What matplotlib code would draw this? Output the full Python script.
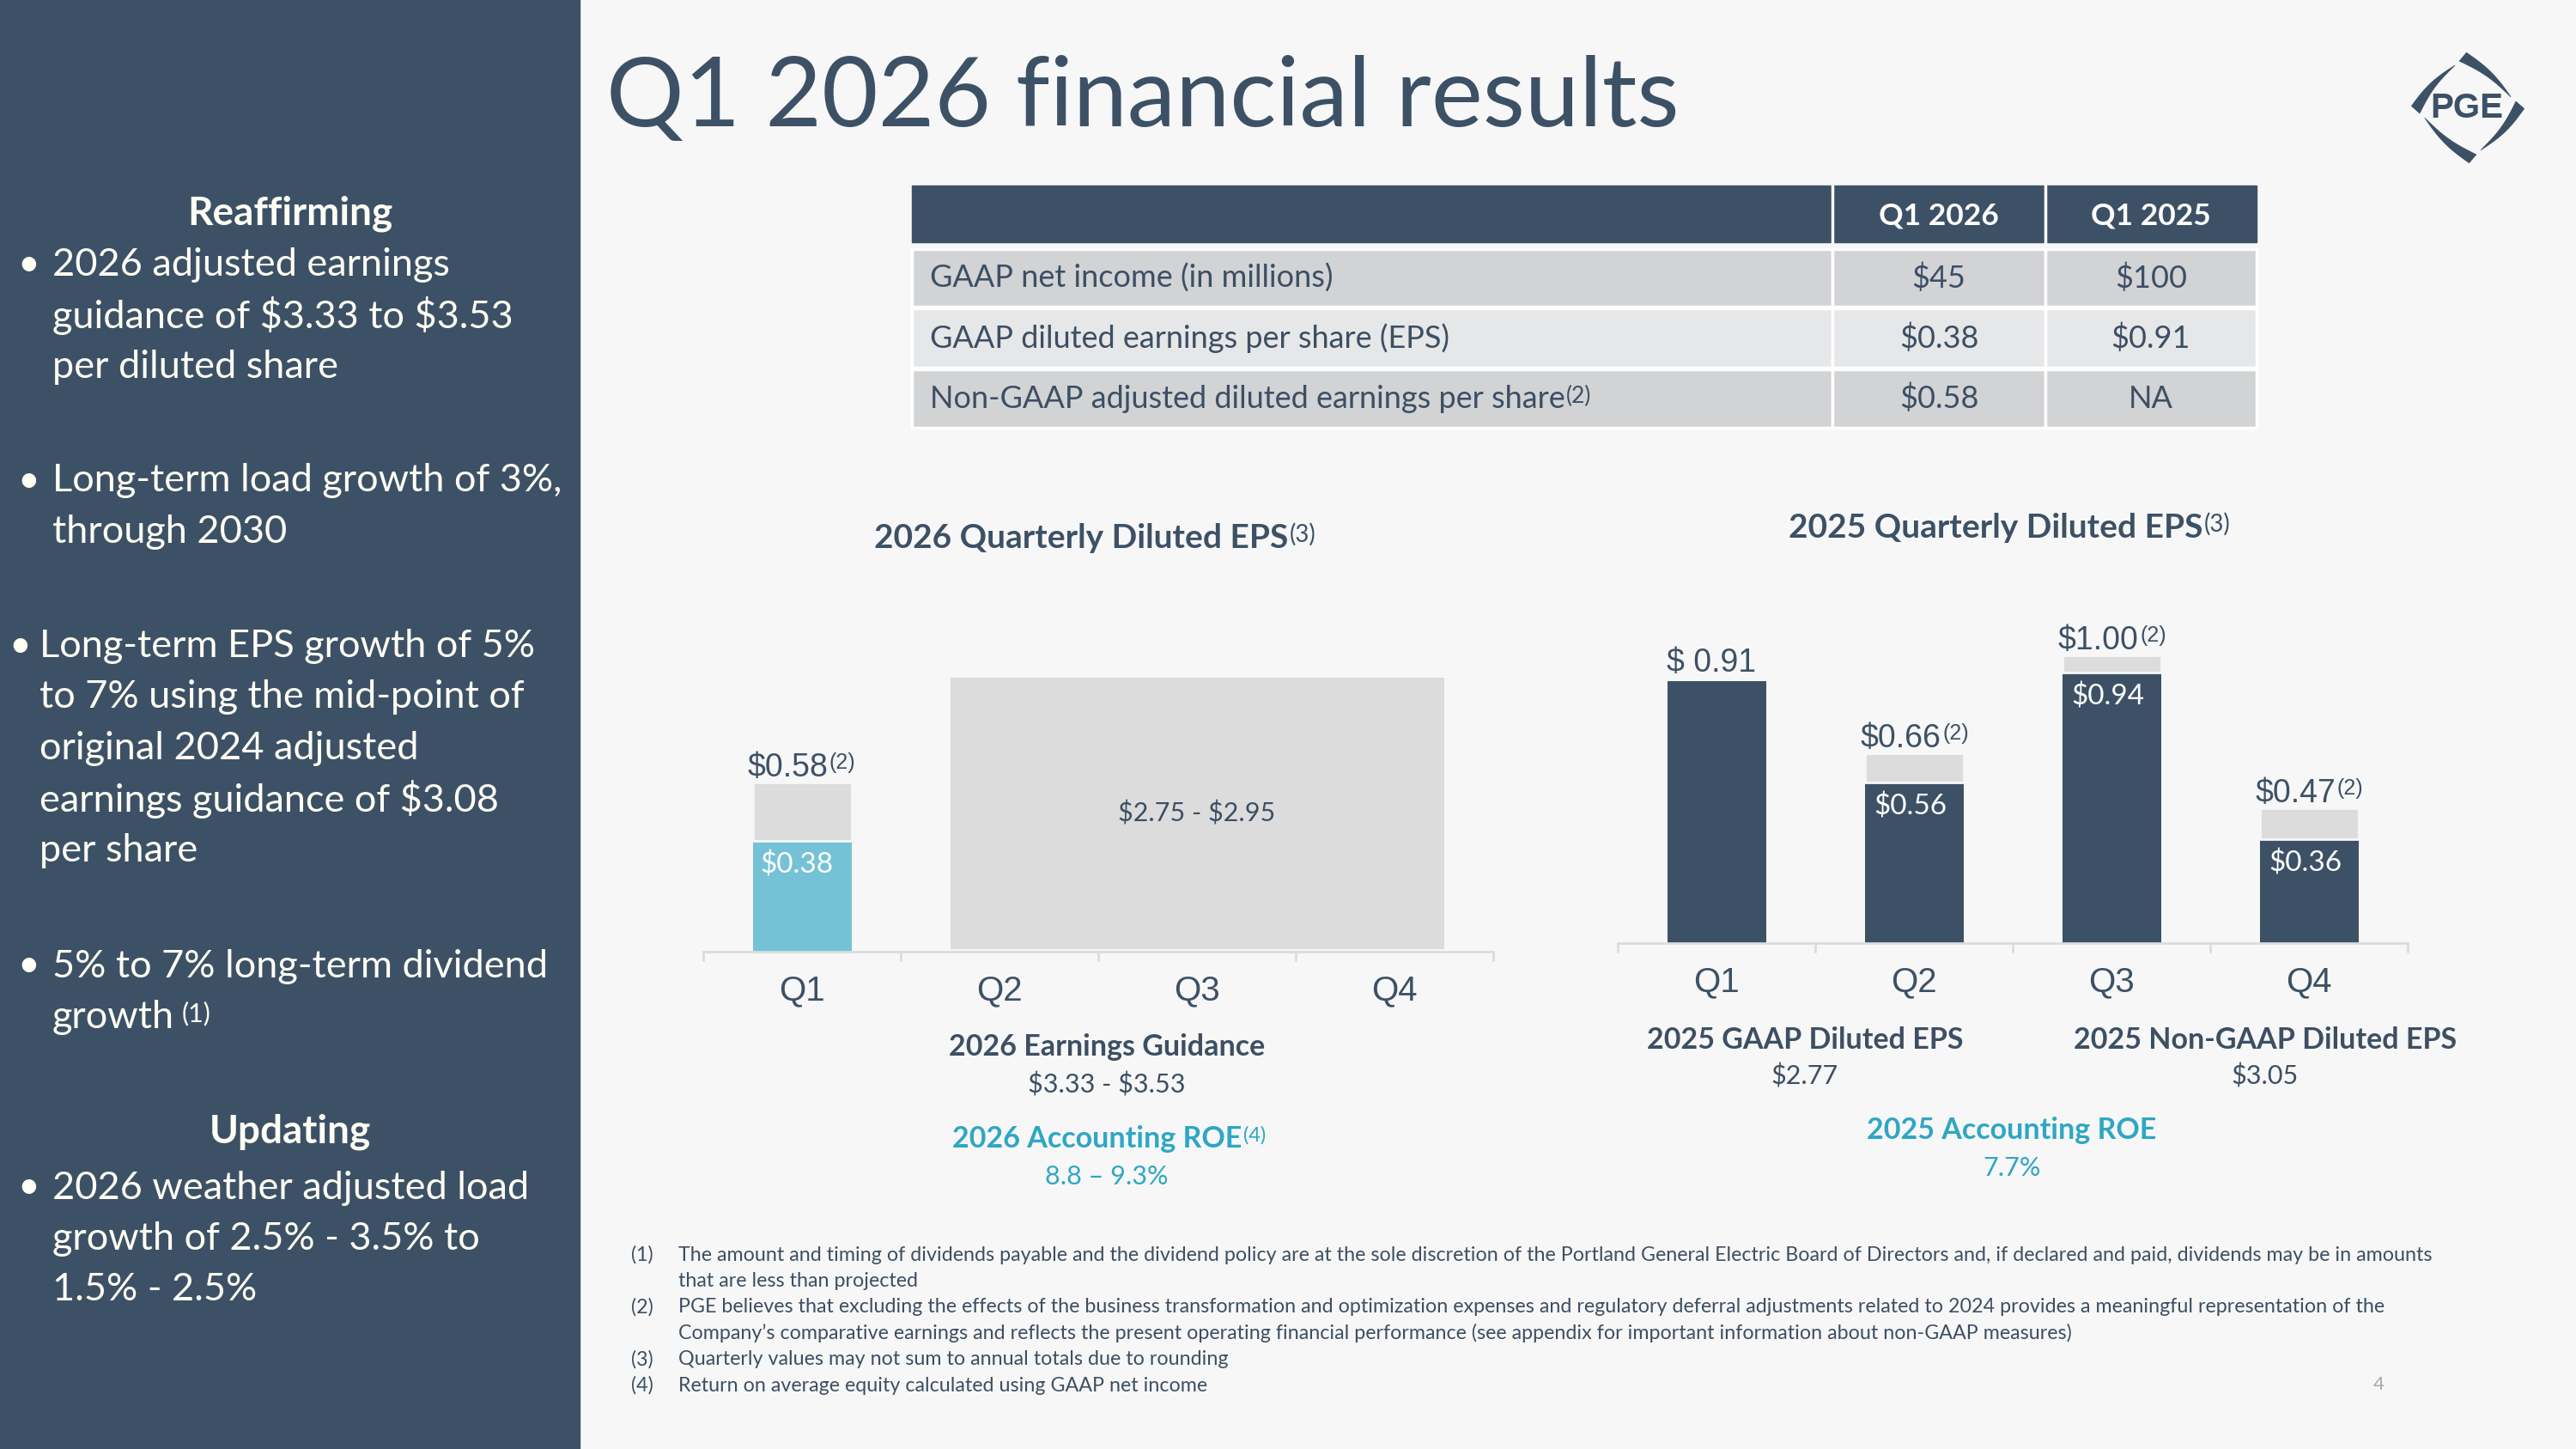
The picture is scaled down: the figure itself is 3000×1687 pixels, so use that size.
import numpy as np
import matplotlib
matplotlib.use("Agg")
import matplotlib.pyplot as plt
from matplotlib.patches import Rectangle, Polygon

plt.rcParams["text.parse_math"] = False
plt.rcParams["font.family"] = ["Lato", "DejaVu Sans"]

# ---- data ----
quarters = ["Q1", "Q2", "Q3", "Q4"]
eps26_gaap = [0.38]
eps26_adj = [0.58]
guide_range = "$2.75 - $2.95"
guide_box_height = 0.93          # placeholder box for Q2-Q4 (not to scale)
eps25_gaap = [0.91, 0.56, 0.94, 0.36]
eps25_adj = [None, 0.66, 1.00, 0.47]

table_cols = ["Q1 2026", "Q1 2025"]
table_rows = ["GAAP net income (in millions)",
              "GAAP diluted earnings per share (EPS)",
              "Non-GAAP adjusted diluted earnings per share"]
table_q1_2026 = ["$45", "$0.38", "$0.58"]
table_q1_2025 = ["$100", "$0.91", "NA"]

footnotes = [
    ("(1)", ["The amount and timing of dividends payable and the dividend policy are at the sole discretion of the Portland General Electric Board of Directors and, if declared and paid, dividends may be in amounts",
             "that are less than projected"]),
    ("(2)", ["PGE believes that excluding the effects of the business transformation and optimization expenses and regulatory deferral adjustments related to 2024 provides a meaningful representation of the",
             "Company\u2019s comparative earnings and reflects the present operating financial performance (see appendix for important information about non-GAAP measures)"]),
    ("(3)", ["Quarterly values may not sum to annual totals due to rounding"]),
    ("(4)", ["Return on average equity calculated using GAAP net income"]),
]

NAVY = "#3d5166"
TEAL = "#75c2d6"
GRAY = "#dcdcdc"
BG = "#f7f7f7"
TXT = "#3d4f63"
ACCENT = "#2fa6c4"
WHITE = "#fffff4"
ARIAL = ["Liberation Sans", "DejaVu Sans"]

W, H = 3000, 1687
fig = plt.figure(figsize=(30, 16.87), dpi=100, facecolor=BG)
ov = fig.add_axes([0, 0, 1, 1])
ov.set_xlim(0, W)
ov.set_ylim(H, 0)
ov.axis("off")


def sup(ax, art, s, size, color, dx=1, dy=-2, family=None):
    kw = {}
    if family:
        kw["family"] = family
    return ax.annotate(s, xy=(1, 1), xycoords=art, xytext=(dx, dy), textcoords="offset points",
                       ha="left", va="top", fontsize=size, color=color, **kw)


# left panel
ov.add_patch(Rectangle((0, 0), 675, H, color=NAVY, zorder=0))
ov.text(338, 249, "Reaffirming", ha="center", va="center", fontsize=33, fontweight="bold", color=WHITE)
ov.text(338, 1318, "Updating", ha="center", va="center", fontsize=33, fontweight="bold", color=WHITE)
groups = [
    (308, 33, 61, ["2026 adjusted earnings", "guidance of $3.33 to $3.53", "per diluted share"]),
    (560, 33, 61, ["Long-term load growth of 3%,", "through 2030"]),
    (752, 23, 46, ["Long-term EPS growth of 5%", "to 7% using the mid-point of", "original 2024 adjusted",
                   "earnings guidance of $3.08", "per share"]),
    (1125, 33, 61, ["5% to 7% long-term dividend", "growth"]),
    (1383, 33, 61, ["2026 weather adjusted load", "growth of 2.5% - 3.5% to", "1.5% - 2.5%"]),
]
for y0, bx, tx, lines in groups:
    ov.text(bx, y0, "\u2022", ha="center", va="center", fontsize=32, color=WHITE)
    for i, ln in enumerate(lines):
        t = ov.text(tx, y0 + i * 59.5, ln, ha="left", va="center", fontsize=32.5, color=WHITE)
    if lines[-1] == "growth":
        sup(ov, t, "(1)", 22, WHITE, dx=6, dy=-1)

# title
ov.text(706, 115, "Q1 2026 financial results", ha="left", va="center", fontsize=81.5, color=NAVY)

# logo
corners = np.array([[2868, 66], [2935, 122], [2880, 185], [2813, 128]], float)
cen = corners.mean(0)
for i in range(4):
    a = corners[i]
    d = corners[(i + 1) % 4] - a
    u = d / np.linalg.norm(d)
    n = np.array([-u[1], u[0]])
    if np.dot(n, a - cen) < 0:
        n = -n
    tt = np.linspace(0, 0.84, 30)
    mid = a + np.outer(tt, d) + np.outer(4 * np.sin(np.pi * tt / 0.84), n)
    wid = 6.5 * (1 - tt / 0.84) ** 0.9 + 0.3
    pts = np.vstack([mid + wid[:, None] * n, (mid - wid[:, None] * n)[::-1]])
    ov.add_patch(Polygon(pts, closed=True, color=NAVY, lw=0))
ov.text(2873, 126, "PGE", ha="center", va="center", fontsize=29, fontweight="bold", color=NAVY,
        family=["Liberation Sans Narrow", "Liberation Sans"])

# table
xs = [1062, 2134, 2382, 2628]
ov.add_patch(Rectangle((xs[0], 216), xs[3] - xs[0], 66, color=NAVY))
for j in (1, 2):
    ov.plot([xs[j], xs[j]], [216, 282], color="white", lw=2.5)
for j, c in enumerate(table_cols):
    ov.text((xs[j + 1] + xs[j + 2]) / 2, 251, c, ha="center", va="center", fontsize=25.5,
            fontweight="bold", color="white")
row_tops = [290, 359, 430]
row_h = [67, 69, 68]
row_colors = ["#d1d3d5", "#e6e7e8", "#d1d3d5"]
for i, label in enumerate(table_rows):
    y, h = row_tops[i], row_h[i]
    for j in range(3):
        ov.add_patch(Rectangle((xs[j], y), xs[j + 1] - xs[j], h, facecolor=row_colors[i],
                               edgecolor="white", lw=2.5))
    yc = y + h / 2
    t = ov.text(1083, yc, label, ha="left", va="center", fontsize=26, color=TXT)
    if i == 2:
        sup(ov, t, "(2)", 19, TXT, dx=1, dy=-1)
    ov.text((xs[1] + xs[2]) / 2, yc, table_q1_2026[i], ha="center", va="center", fontsize=26, color=TXT)
    ov.text((xs[2] + xs[3]) / 2, yc, table_q1_2025[i], ha="center", va="center", fontsize=26, color=TXT)


def setup(ax):
    ax.set_xlim(-0.5, 3.5)
    ax.set_ylim(0, 1.2)
    ax.patch.set_alpha(0)
    for s in ["top", "right", "left"]:
        ax.spines[s].set_visible(False)
    ax.spines["bottom"].set_color("#d9dde0")
    ax.spines["bottom"].set_linewidth(2)
    ax.set_yticks([])
    ax.set_xticks(range(len(quarters)))
    ax.set_xticklabels(quarters, family=ARIAL, fontsize=29, color=NAVY)
    ax.set_xticks(np.arange(-0.5, len(quarters), 1), minor=True)
    ax.tick_params(axis="x", which="major", length=0, pad=19)
    ax.tick_params(axis="x", which="minor", length=8, width=2, color="#d9dde0")


bw = 0.5
# 2026 chart
ax1 = fig.add_axes([819 / W, 1 - 1108 / H, 920 / W, 1.2 * 339.6 / H])
setup(ax1)
x26 = np.arange(len(eps26_gaap))
ax1.bar(x26, eps26_gaap, bw, color=TEAL)
ax1.bar(x26, np.array(eps26_adj) - np.array(eps26_gaap), bw, bottom=eps26_gaap,
        color=GRAY, edgecolor=BG, lw=2)
rest = np.arange(len(eps26_gaap), len(quarters))
ax1.bar(rest.mean(), guide_box_height, rest[-1] - rest[0] + bw, bottom=0.01, color=GRAY)
ax1.text(rest.mean(), 0.01 + guide_box_height * 0.5, guide_range, ha="center", va="center",
         fontsize=22, color=TXT)
for x, g, a in zip(x26, eps26_gaap, eps26_adj):
    t = ax1.annotate(f"${a:.2f}", xy=(x, a), xytext=(-12, 5), textcoords="offset points",
                     ha="center", va="baseline", fontsize=27, color=NAVY, family=ARIAL)
    sup(ax1, t, "(2)", 18, NAVY, dx=1, dy=0, family=ARIAL)
    ax1.annotate(f"${g:.2f}", xy=(x, g), xytext=(-4, -9), textcoords="offset points",
                 ha="center", va="top", fontsize=24, color="white")

# 2025 chart
ax2 = fig.add_axes([1884 / W, 1 - 1098 / H, 920 / W, 1.2 * 334.8 / H])
setup(ax2)
x25 = np.arange(len(quarters))
ax2.bar(x25, eps25_gaap, bw, color=NAVY)
for x, g, a in zip(x25, eps25_gaap, eps25_adj):
    if a is None:
        ax2.annotate(f"$ {g:.2f}", xy=(x, g), xytext=(-4, 8), textcoords="offset points",
                     ha="center", va="baseline", fontsize=27, color=NAVY, family=ARIAL)
        continue
    ax2.bar(x, a - g, bw, bottom=g, color=GRAY, edgecolor=BG, lw=2)
    t = ax2.annotate(f"${a:.2f}", xy=(x, a), xytext=(-11, 5), textcoords="offset points",
                     ha="center", va="baseline", fontsize=27, color=NAVY, family=ARIAL)
    sup(ax2, t, "(2)", 18, NAVY, dx=1, dy=0, family=ARIAL)
    ax2.annotate(f"${g:.2f}", xy=(x, g), xytext=(-3, -9), textcoords="offset points",
                 ha="center", va="top", fontsize=24, color="white")

# chart titles
t = ov.text(1259, 626, "2026 Quarterly Diluted EPS", ha="center", va="center", fontsize=28,
            fontweight="bold", color=NAVY)
sup(ov, t, "(3)", 20, NAVY, dx=1, dy=0)
t = ov.text(2324, 614, "2025 Quarterly Diluted EPS", ha="center", va="center", fontsize=28,
            fontweight="bold", color=NAVY)
sup(ov, t, "(3)", 20, NAVY, dx=1, dy=0)

# summary text under charts
ov.text(1289, 1219, "2026 Earnings Guidance", ha="center", va="center", fontsize=24.5, fontweight="bold", color=TXT)
ov.text(1289, 1263, "$3.33 - $3.53", ha="center", va="center", fontsize=22, color=TXT)
t = ov.text(1278, 1326, "2026 Accounting ROE", ha="center", va="center", fontsize=24.5, fontweight="bold", color=ACCENT)
sup(ov, t, "(4)", 17, ACCENT, dx=1, dy=-1)
ov.text(1289, 1370, "8.8 \u2013 9.3%", ha="center", va="center", fontsize=22, color=ACCENT)
ov.text(2102, 1211, "2025 GAAP Diluted EPS", ha="center", va="center", fontsize=24.5, fontweight="bold", color=TXT)
ov.text(2102, 1253, "$2.77", ha="center", va="center", fontsize=22, color=TXT)
ov.text(2638, 1211, "2025 Non-GAAP Diluted EPS", ha="center", va="center", fontsize=24.5, fontweight="bold", color=TXT)
ov.text(2638, 1253, "$3.05", ha="center", va="center", fontsize=22, color=TXT)
ov.text(2343, 1316, "2025 Accounting ROE", ha="center", va="center", fontsize=24.5, fontweight="bold", color=ACCENT)
ov.text(2343, 1360, "7.7%", ha="center", va="center", fontsize=22, color=ACCENT)

# footnotes
y = 1461
for num, lines in footnotes:
    ov.text(735, y, num, ha="left", va="center", fontsize=16.75, color=TXT)
    for ln in lines:
        ov.text(790, y, ln, ha="left", va="center", fontsize=16.75, color=TXT)
        y += 30.4
ov.text(2764, 1612, "4", ha="left", va="center", fontsize=16, color="#a9a9a9")

fig.savefig("out.png", dpi=100, facecolor=BG)
